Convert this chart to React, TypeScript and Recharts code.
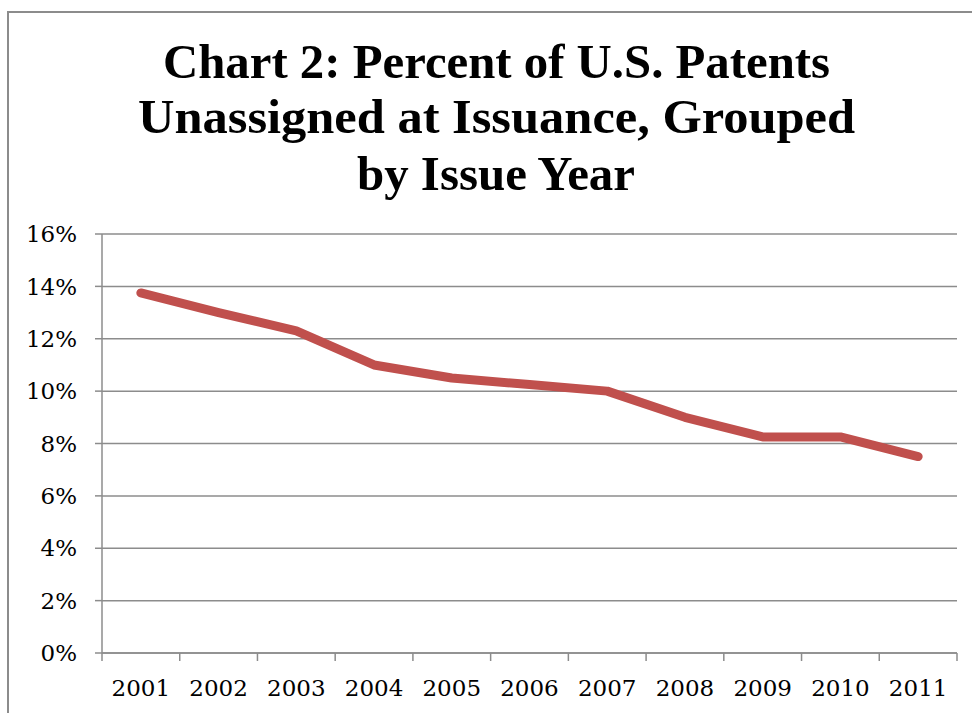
import { LineChart, Line, XAxis, YAxis, CartesianGrid } from 'recharts';

// Données
const years = ['2001', '2002', '2003', '2004', '2005', '2006', '2007', '2008', '2009', '2010', '2011'];
const unassignedPct = [13.75, 13.0, 12.3, 11.0, 10.5, 10.25, 10.0, 9.0, 8.25, 8.25, 7.5];
const yTicks = [0, 2, 4, 6, 8, 10, 12, 14, 16];
const titleLines = ['Chart 2: Percent of U.S. Patents', 'Unassigned at Issuance, Grouped', 'by Issue Year'];

const data = years.map((year, i) => ({ year, pct: unassignedPct[i] }));

const W = 972;
const H = 713;
const MARGIN = { top: 234, right: 15, bottom: 15, left: 52 };
const Y_AXIS_W = 50;
const X_AXIS_H = 45;
const PLOT_W = W - MARGIN.left - MARGIN.right - Y_AXIS_W;
const HALF_STEP = PLOT_W / years.length / 2;

const GRAY = '#8c8c8c';
const LABEL_FONT = '"DejaVu Serif", serif';

// ticks entre les catégories, comme dans Excel
const YearTick = (props: any) => {
  const { x, y, payload, index } = props;
  const last = index === years.length - 1;
  return (
    <g>
      <line x1={x - HALF_STEP} x2={x - HALF_STEP} y1={y} y2={y + 8} stroke={GRAY} strokeWidth={1.5} />
      {last && <line x1={x + HALF_STEP} x2={x + HALF_STEP} y1={y} y2={y + 8} stroke={GRAY} strokeWidth={1.5} />}
      <text x={x} y={y + 43} textAnchor="middle" fill="#000" fontSize={23} fontFamily={LABEL_FONT}>
        {payload.value}
      </text>
    </g>
  );
};

// position / largeur de chaque ligne du titre
const titleLayout = [
  { x: 163, y: 78, len: 667 },
  { x: 138, y: 133, len: 717 },
  { x: 357, y: 190, len: 278 },
];

const App = () => {
  return (
    <div style={{ position: 'absolute', left: 0, top: 0, width: W, height: H, overflow: 'hidden', background: '#fff' }}>
      {/* cadre */}
      <div
        style={{
          position: 'absolute',
          left: 7,
          top: 11,
          width: 1000,
          height: 800,
          border: `2px solid ${GRAY}`,
        }}
      />

      {/* Titre */}
      <svg width={W} height={220} style={{ position: 'absolute', left: 0, top: 0 }}>
        {titleLines.map((line, i) => (
          <text
            key={line}
            x={titleLayout[i].x}
            y={titleLayout[i].y}
            textLength={titleLayout[i].len}
            lengthAdjust="spacingAndGlyphs"
            fontFamily='"Liberation Serif", serif'
            fontWeight="bold"
            fontSize={48}
            fill="#000"
          >
            {line}
          </text>
        ))}
      </svg>

      <div style={{ position: 'absolute', left: 0, top: 0 }}>
        <LineChart width={W} height={H} data={data} margin={MARGIN}>
          <CartesianGrid vertical={false} stroke={GRAY} strokeWidth={1.5} />
          <XAxis
            dataKey="year"
            interval={0}
            height={X_AXIS_H}
            padding={{ left: HALF_STEP, right: HALF_STEP }}
            axisLine={{ stroke: GRAY, strokeWidth: 1.5 }}
            tickLine={false}
            tickSize={0}
            tickMargin={0}
            tick={<YearTick />}
          />
          <YAxis
            width={Y_AXIS_W}
            domain={[0, 16]}
            ticks={yTicks}
            interval={0}
            tickFormatter={(v: number) => `${v}%`}
            axisLine={{ stroke: GRAY, strokeWidth: 1.5 }}
            tickLine={{ stroke: GRAY, strokeWidth: 1.5 }}
            tickSize={7}
            tickMargin={18}
            tick={{ fill: '#000', fontSize: 23, fontFamily: LABEL_FONT }}
          />
          <Line
            type="linear"
            dataKey="pct"
            stroke="#C0504D"
            strokeWidth={9}
            strokeLinecap="round"
            strokeLinejoin="round"
            dot={false}
            activeDot={false}
            isAnimationActive={false}
          />
        </LineChart>
      </div>
    </div>
  );
};

export default App;
